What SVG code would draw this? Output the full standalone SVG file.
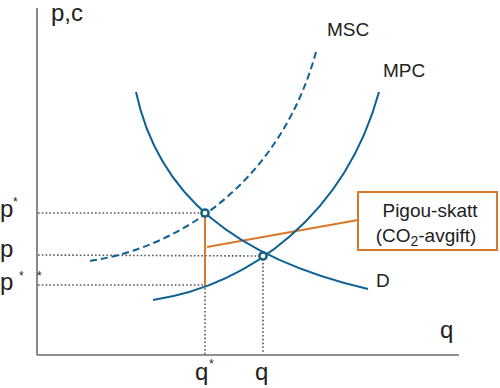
<svg xmlns="http://www.w3.org/2000/svg" width="500" height="388" viewBox="0 0 500 388">
<defs>
<style>
.t{font-family:"Liberation Sans",Arial,sans-serif;font-size:19px;fill:#222}
.b{font-family:"Liberation Sans",Arial,sans-serif;font-size:24px;fill:#222}
.s{font-family:"Liberation Sans",Arial,sans-serif;font-size:12px;fill:#222}
.ax{stroke:#6b6b6b;stroke-width:1.6;fill:none}
.dot{stroke:#555;stroke-width:1.6;stroke-dasharray:1.6 2.2;fill:none}
.cv{stroke:#0d6194;stroke-width:2;fill:none}
.or{stroke:#d8782d;stroke-width:2;fill:none}
.pt{fill:#fff;stroke:#17627f;stroke-width:2.5}
</style>
</defs>
<rect width="500" height="388" fill="#fff"/>
<g id="axes">
<line class="ax" x1="37" y1="8" x2="37" y2="355"/>
<line class="ax" x1="37" y1="355" x2="459" y2="355"/>
<text class="b" x="51" y="21" font-size="22">p,c</text>
<text class="b" x="440" y="338" font-size="22">q</text>
</g>
<g id="connectors">
<line class="dot" x1="38" y1="213" x2="203" y2="213"/>
<line class="dot" x1="38" y1="255" x2="261" y2="256"/>
<line class="dot" x1="38" y1="285" x2="205" y2="285"/>
<line class="dot" x1="205" y1="216" x2="205" y2="354"/>
<line class="dot" x1="263" y1="259" x2="263" y2="354"/>
<line class="or" x1="205" y1="216" x2="205" y2="286"/>
<line class="or" x1="207" y1="247" x2="358" y2="220"/>
</g>
<g id="D">
<path class="cv" d="M136,92 C158,195 235,258 368,289"/>
<text class="t" x="376" y="287">D</text>
</g>
<g id="MPC">
<path class="cv" d="M153,300 C250,285 345,215 379,92"/>
<text class="t" x="383" y="77">MPC</text>
</g>
<g id="MSC">
<path class="cv" stroke-dasharray="7 4" d="M90,261 C187,246 282,176 316,52"/>
<text class="t" x="327" y="36">MSC</text>
</g>
<g id="eq1"><circle class="pt" cx="205" cy="213" r="3.6"/></g>
<g id="eq2"><circle class="pt" cx="263" cy="256" r="3.6"/></g>
<g id="pigou">
<rect x="358" y="192" width="139" height="58" fill="#fff" stroke="#d8782d" stroke-width="2"/>
<text class="t" x="430" y="217" text-anchor="middle" font-size="20">Pigou-skatt</text>
<text class="t" x="426" y="242" text-anchor="middle" font-size="20">(CO<tspan font-size="14" dy="4">2</tspan><tspan dy="-4">-avgift)</tspan></text>
</g>
<g id="labels">
<text class="b" x="0" y="217">p</text>
<text class="s" x="13" y="206">*</text>
<text class="b" x="0" y="257">p</text>
<text class="b" x="0" y="290">p</text>
<text class="s" x="19" y="280">*</text>
<text class="s" x="37" y="280">*</text>
<text class="b" x="195" y="380" font-size="23">q</text>
<text class="s" x="209" y="368">*</text>
<text class="b" x="255" y="380" font-size="23">q</text>
</g>
</svg>
